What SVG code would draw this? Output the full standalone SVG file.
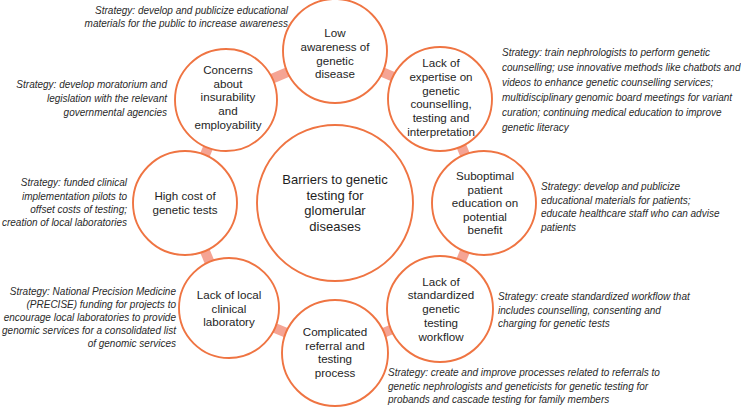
<svg xmlns="http://www.w3.org/2000/svg" width="741" height="410" viewBox="0 0 741 410">
<style>
.bg{fill:#ffffff}
.bar{stroke:#F5A494;stroke-width:10;fill:none}
.c{fill:#ffffff;stroke:#EF7442;stroke-width:1.9}
.lbl{font-family:"Liberation Sans",Arial,sans-serif;font-size:11.6px;fill:#1e1e1e;text-anchor:middle}
.big{font-family:"Liberation Sans",Arial,sans-serif;font-size:13px;fill:#1e1e1e;text-anchor:middle}
.st{font-family:"Liberation Sans",Arial,sans-serif;font-size:10px;font-style:italic;fill:#2a2a2a}
.r{text-anchor:end}
</style>
<rect class="bg" x="0" y="0" width="741" height="410"/>
<g id="connectors">
<line class="bar" x1="335" y1="52" x2="441" y2="97"/>
<line class="bar" x1="441" y1="97" x2="485" y2="203"/>
<line class="bar" x1="485" y1="203" x2="441" y2="309"/>
<line class="bar" x1="441" y1="309" x2="335" y2="353"/>
<line class="bar" x1="335" y1="353" x2="229" y2="309"/>
<line class="bar" x1="229" y1="309" x2="185" y2="203"/>
<line class="bar" x1="185" y1="203" x2="229" y2="97"/>
<line class="bar" x1="229" y1="97" x2="335" y2="52"/>
</g>
<g id="center">
<circle class="c" cx="335" cy="203" r="78"/>
<text class="big" x="335" y="184">Barriers to genetic</text>
<text class="big" x="335" y="200">testing for</text>
<text class="big" x="335" y="215">glomerular</text>
<text class="big" x="335" y="231">diseases</text>
</g>
<g id="low-awareness">
<circle class="c" cx="335" cy="51" r="52"/>
<text class="lbl" x="335" y="37">Low</text>
<text class="lbl" x="335" y="51">awareness of</text>
<text class="lbl" x="335" y="65">genetic</text>
<text class="lbl" x="335" y="78">disease</text>
<text class="st r" x="288" y="14">Strategy: develop and publicize educational</text>
<text class="st r" x="288" y="27">materials for the public to increase awareness</text>
</g>
<g id="lack-expertise">
<circle class="c" cx="440" cy="99" r="52"/>
<text class="lbl" x="441" y="67">Lack of</text>
<text class="lbl" x="441" y="81">expertise on</text>
<text class="lbl" x="441" y="95">genetic</text>
<text class="lbl" x="441" y="108">counselling,</text>
<text class="lbl" x="441" y="122">testing and</text>
<text class="lbl" x="441" y="136">interpretation</text>
<text class="st" x="502" y="56">Strategy: train nephrologists to perform genetic</text>
<text class="st" x="502" y="71">counselling; use innovative methods like chatbots and</text>
<text class="st" x="502" y="86">videos to enhance genetic counselling services;</text>
<text class="st" x="502" y="101">multidisciplinary genomic board meetings for variant</text>
<text class="st" x="502" y="116">curation; continuing medical education to improve</text>
<text class="st" x="502" y="131">genetic literacy</text>
</g>
<g id="suboptimal-education">
<circle class="c" cx="484" cy="203" r="52"/>
<text class="lbl" x="485" y="180">Suboptimal</text>
<text class="lbl" x="485" y="194">patient</text>
<text class="lbl" x="485" y="207">education on</text>
<text class="lbl" x="485" y="221">potential</text>
<text class="lbl" x="485" y="234">benefit</text>
<text class="st" x="541" y="190">Strategy: develop and publicize</text>
<text class="st" x="541" y="204">educational materials for patients;</text>
<text class="st" x="541" y="217">educate healthcare staff who can advise</text>
<text class="st" x="541" y="231">patients</text>
</g>
<g id="lack-standardized">
<circle class="c" cx="440" cy="309" r="53"/>
<text class="lbl" x="441" y="286">Lack of</text>
<text class="lbl" x="441" y="299">standardized</text>
<text class="lbl" x="441" y="313">genetic</text>
<text class="lbl" x="441" y="327">testing</text>
<text class="lbl" x="441" y="341">workflow</text>
<text class="st" x="498" y="300">Strategy: create standardized workflow that</text>
<text class="st" x="498" y="314">includes counselling, consenting and</text>
<text class="st" x="498" y="327">charging for genetic tests</text>
</g>
<g id="complicated-referral">
<circle class="c" cx="335" cy="353" r="53"/>
<text class="lbl" x="335" y="336">Complicated</text>
<text class="lbl" x="335" y="350">referral and</text>
<text class="lbl" x="335" y="363">testing</text>
<text class="lbl" x="335" y="377">process</text>
<text class="st" x="388" y="376">Strategy: create and improve processes related to referrals to</text>
<text class="st" x="388" y="390">genetic nephrologists and geneticists for genetic testing for</text>
<text class="st" x="388" y="403">probands and cascade testing for family members</text>
</g>
<g id="lack-local-lab">
<circle class="c" cx="229" cy="308" r="50"/>
<text class="lbl" x="229" y="299">Lack of local</text>
<text class="lbl" x="229" y="313">clinical</text>
<text class="lbl" x="229" y="326">laboratory</text>
<text class="st r" x="176" y="295">Strategy: National Precision Medicine</text>
<text class="st r" x="176" y="308">(PRECISE) funding for projects to</text>
<text class="st r" x="176" y="321">encourage local laboratories to provide</text>
<text class="st r" x="176" y="334">genomic services for a consolidated list</text>
<text class="st r" x="176" y="347">of genomic services</text>
</g>
<g id="high-cost">
<circle class="c" cx="185" cy="203" r="52"/>
<text class="lbl" x="185" y="200">High cost of</text>
<text class="lbl" x="185" y="214">genetic tests</text>
<text class="st r" x="127" y="186">Strategy: funded clinical</text>
<text class="st r" x="127" y="200">implementation pilots to</text>
<text class="st r" x="127" y="213">offset costs of testing;</text>
<text class="st r" x="127" y="226">creation of local laboratories</text>
</g>
<g id="concerns-insurability">
<circle class="c" cx="226" cy="100" r="51"/>
<text class="lbl" x="228" y="74">Concerns</text>
<text class="lbl" x="228" y="88">about</text>
<text class="lbl" x="228" y="101">insurability</text>
<text class="lbl" x="228" y="115">and</text>
<text class="lbl" x="228" y="129">employability</text>
<text class="st r" x="167" y="88">Strategy: develop moratorium and</text>
<text class="st r" x="167" y="102">legislation with the relevant</text>
<text class="st r" x="167" y="116">governmental agencies</text>
</g>
</svg>
